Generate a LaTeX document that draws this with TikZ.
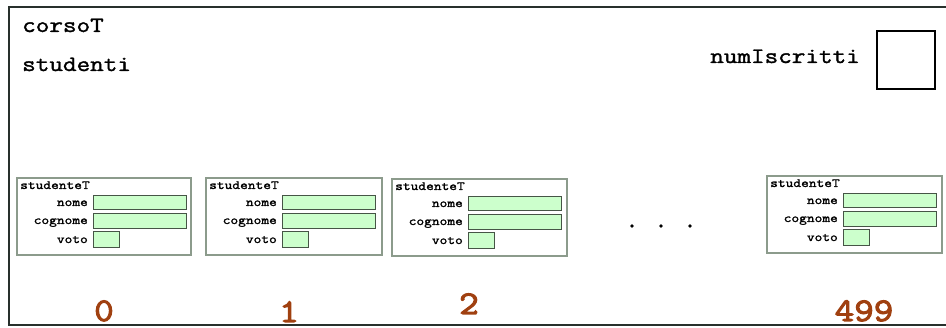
\documentclass[tikz,border=0pt]{standalone}
\usepackage{fontspec}
% Courier-like serif typewriter face, thickened and widened a little
\newfontfamily\courfont{Latin Modern Mono}[FakeBold=1.6, FakeStretch=1.2]
\newfontfamily\courheavy{Latin Modern Mono}[FakeBold=3.2, FakeStretch=1.15]
\definecolor{framecol}{RGB}{40,48,44}
\definecolor{recedge}{RGB}{140,155,140}
\definecolor{fieldfill}{RGB}{204,255,204}
\definecolor{fieldedge}{RGB}{70,85,70}
\definecolor{idxcol}{RGB}{160,64,16}
\begin{document}
\begin{tikzpicture}[x=1pt,y=-1pt,
  frameline/.style={draw=framecol, line width=2.6pt},
  thinline/.style={draw=framecol, line width=1.4pt},
  bigtext/.style={font=\courfont\fontsize{22}{24}\selectfont, inner sep=0pt},
  recbox/.style={draw=recedge, line width=1.3pt, fill=white},
  reclabel/.style={font=\courfont\fontsize{12.5}{13}\selectfont, inner sep=0pt},
  fieldbox/.style={draw=fieldedge, line width=0.9pt, fill=fieldfill},
  idxlabel/.style={font=\courheavy\fontsize{33}{36}\selectfont, text=idxcol, inner sep=0pt},
  dotmark/.style={circle, fill=black, inner sep=0pt, minimum size=3.6pt},
  valbox/.style={draw=black, line width=2.6pt, fill=white, minimum width=58pt, minimum height=58pt, inner sep=0pt}]
\useasboundingbox (0,0) rectangle (946,328);

% outer frame of the record (open on the right)
\coordinate (tl) at (9,7);
\coordinate (bl) at (9,325);
\coordinate (ta) at (666,7);
\coordinate (tb) at (836,7);
\coordinate (tr) at (960,7);
\coordinate (br) at (960,325);
\draw[frameline] (ta) -- (tl) -- (bl) -- (br);
\draw[frameline] (tb) -- (tr);
\draw[thinline] (ta) -- (tb);

% record labels
\node[bigtext, anchor=base west] (corso) at (22,32) {corsoT};
\node[bigtext, anchor=base west] (stud) at (22,71) {studenti};
\node[bigtext, anchor=base east] (numlbl) at (860,63) {numIscritti};
\node[valbox] (numval) at (906,60) {};

% one studenteT record per array cell
\foreach \n/\bx/\by/\bw in {s0/17/178/174, s1/206/178/176, s2/392/179/175, s3/767/176/175}{
  \draw[recbox] (\bx,\by) rectangle ++(\bw,77);
  \node[reclabel, anchor=base west] (\n-title) at (\bx+3,\by+11) {studenteT};
  \node[reclabel, anchor=base east] (\n-nomel) at (\bx+71,\by+28) {nome};
  \node[reclabel, anchor=base east] (\n-cognl) at (\bx+71,\by+46) {cognome};
  \node[reclabel, anchor=base east] (\n-votol) at (\bx+71,\by+65) {voto};
  \draw[fieldbox] (\bx+76,\by+17) rectangle (\bx+169,\by+31);
  \draw[fieldbox] (\bx+76,\by+35) rectangle (\bx+169,\by+50);
  \draw[fieldbox] (\bx+76,\by+53) rectangle (\bx+102,\by+69);
}

% ellipsis between cells
\node[dotmark] (d1) at (632,226) {};
\node[dotmark] (d2) at (661,226) {};
\node[dotmark] (d3) at (690,226) {};

% array indices
\node[idxlabel, anchor=base] (i0) at (104,321) {0};
\node[idxlabel, anchor=base] (i1) at (289,322) {1};
\node[idxlabel, anchor=base] (i2) at (469,314) {2};
\node[idxlabel, anchor=base] (i3) at (864,321) {499};
\end{tikzpicture}
\end{document}
